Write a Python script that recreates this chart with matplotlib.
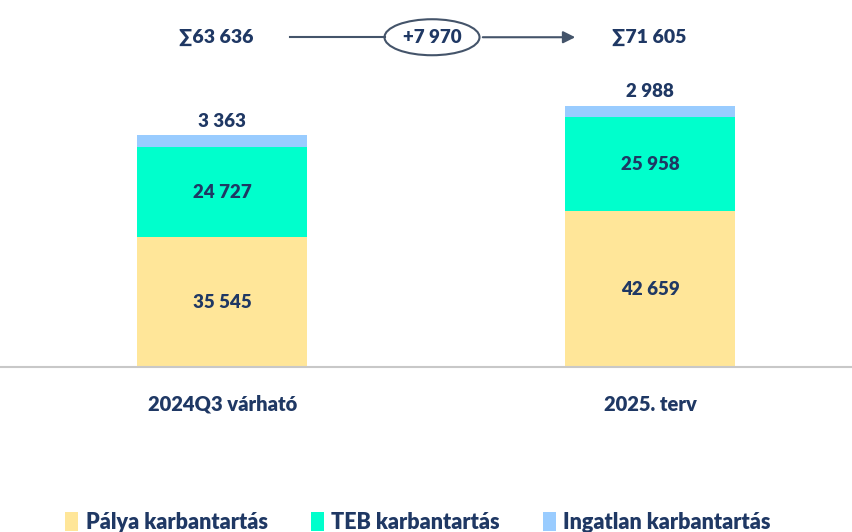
import matplotlib.pyplot as plt
from matplotlib.patches import Ellipse
import numpy as np

categories = ["2024Q3 várható", "2025. terv"]
palya = [35545, 42659]
teb = [24727, 25958]
ingatlan = [3363, 2988]
series_names = ["Pálya karbantartás", "TEB karbantartás", "Ingatlan karbantartás"]
totals_text = ["∑63 636", "∑71 605"]
diff_text = "+7 970"

colors = ["#FFE699", "#00FFCC", "#99CCFF"]
navy = "#1F3864"
plt.rcParams["font.family"] = ["Lato", "DejaVu Sans"]


def fmt(v):
    return f"{v:,}".replace(",", " ")


fig = plt.figure(figsize=(8.53, 5.32), dpi=100)
ax = fig.add_axes([0, 0.31, 1, 0.69])
x = np.arange(len(categories))
w = 0.397

b1 = ax.bar(x, palya, w, color=colors[0], label=series_names[0])
b2 = ax.bar(x, teb, w, bottom=palya, color=colors[1], label=series_names[1])
bottom3 = np.array(palya) + np.array(teb)
b3 = ax.bar(x, ingatlan, w, bottom=bottom3, color=colors[2], label=series_names[2])

for i in range(len(x)):
    ax.text(x[i], palya[i] / 2, fmt(palya[i]), ha="center", va="center",
            fontsize=13.5, fontweight="heavy", color=navy)
    ax.text(x[i], palya[i] + teb[i] / 2, fmt(teb[i]), ha="center", va="center",
            fontsize=13.5, fontweight="heavy", color=navy)
    ax.text(x[i], bottom3[i] + ingatlan[i] + 1500, fmt(ingatlan[i]), ha="center", va="bottom",
            fontsize=13.5, fontweight="heavy", color=navy)

ax.set_xlim(-0.519, 1.474)
ax.set_ylim(0, 100650)
for s in ["top", "right", "left"]:
    ax.spines[s].set_visible(False)
ax.spines["bottom"].set_color("#C8C8C8")
ax.spines["bottom"].set_linewidth(1.5)
ax.set_yticks([])
ax.set_xticks(x)
ax.set_xticklabels(categories, fontsize=14.5, fontweight="heavy", color=navy)
ax.tick_params(axis="x", length=0, pad=20)

# totals and difference arrow at top
yt = 0.93
fig.text(216 / 853, yt, totals_text[0], ha="center", va="center",
         fontsize=14, fontweight="heavy", color=navy)
fig.text(649 / 853, yt, totals_text[1], ha="center", va="center",
         fontsize=14, fontweight="heavy", color=navy)
fig.add_artist(plt.Line2D([290 / 853, 385 / 853], [yt, yt], color="#44546A", lw=1.5))
fig.add_artist(Ellipse((432 / 853, yt), 95 / 853, 36 / 532, transform=fig.transFigure,
                       facecolor="white", edgecolor="#44546A", lw=1.5))
fig.text(432 / 853, yt, diff_text, ha="center", va="center",
         fontsize=13.5, fontweight="heavy", color=navy)
ax.annotate("", xy=(578 / 853, yt), xytext=(480 / 853, yt),
            xycoords="figure fraction", textcoords="figure fraction",
            arrowprops=dict(arrowstyle="-|>", color="#44546A", lw=1.5, mutation_scale=18))

leg = fig.legend(handles=[b1, b2, b3], loc="center", bbox_to_anchor=(0.49, 0.018),
                 ncol=3, frameon=False, handlelength=0.6, handleheight=1.0,
                 handletextpad=0.35, columnspacing=2.0,
                 prop={"size": 15.5, "weight": "heavy"})
for t in leg.get_texts():
    t.set_color(navy)

fig.savefig("out.png", dpi=100)
